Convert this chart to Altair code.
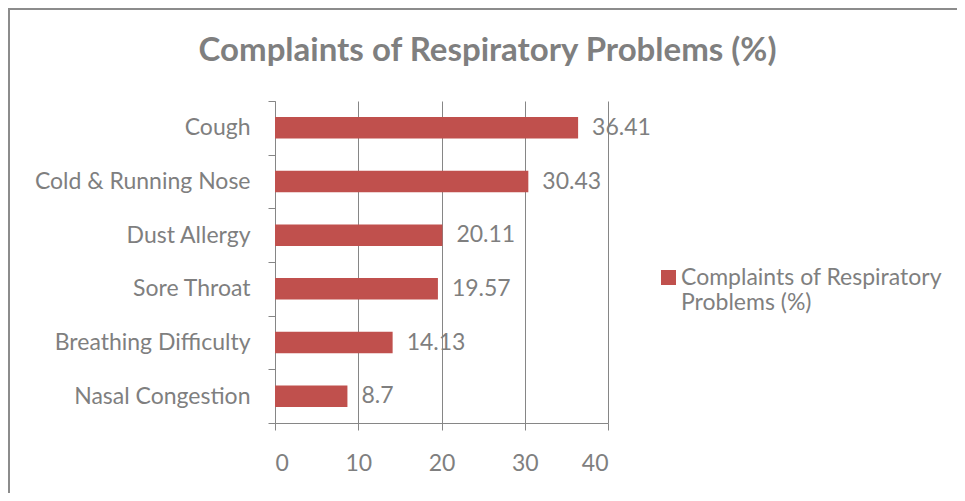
import altair as alt
import pandas as pd

categories = ["Cough", "Cold & Running Nose", "Dust Allergy", "Sore Throat",
              "Breathing Difficulty", "Nasal Congestion"]
values = [36.41, 30.43, 20.11, 19.57, 14.13, 8.7]
value_labels = ["36.41", "30.43", "20.11", "19.57", "14.13", "8.7"]
series_name = "Complaints of Respiratory Problems (%)"
legend_lines = ["Complaints of Respiratory", "Problems (%)"]
x_ticks = [0, 10, 20, 30, 40]

df = pd.DataFrame({
    "category": categories,
    "value": values,
    "label": value_labels,
    "series": [series_name] * len(categories),
})

FONT = "Lato"
GRAY = "#7f7f7f"
LINE = "#868686"
BAR = "#C0504D"
FS = 23

y_enc = alt.Y(
    "category:N", sort=categories,
    scale=alt.Scale(paddingInner=0, paddingOuter=0),
    axis=alt.Axis(title=None, tickBand="extent", tickSize=7, labelPadding=18,
                  labelFontSize=FS, labelColor=GRAY, labelFont=FONT,
                  domainColor=LINE, tickColor=LINE, grid=False, labelLimit=400),
)
x_enc = alt.X(
    "value:Q", scale=alt.Scale(domain=[0, 40]),
    axis=alt.Axis(values=x_ticks, title=None, tickSize=7, labelPadding=22,
                  labelFontSize=FS, labelColor=GRAY, labelFont=FONT,
                  domainColor=LINE, tickColor=LINE, grid=True, gridColor=LINE,
                  gridOpacity=1, labelBaseline="top"),
)

legend_expr = "[" + ", ".join("'" + s + "'" for s in legend_lines) + "]"

bars = alt.Chart(df).mark_bar(height={"band": 0.4}).encode(
    x=x_enc, y=y_enc,
    color=alt.Color("series:N", scale=alt.Scale(range=[BAR]),
                    legend=alt.Legend(title=None, orient="none", legendX=382, legendY=165,
                                      symbolType="square", symbolSize=225,
                                      symbolStrokeWidth=0, symbolOpacity=1,
                                      labelFont=FONT, labelFontSize=FS, labelColor=GRAY,
                                      labelExpr=legend_expr, labelLimit=400,
                                      labelOffset=1)),
)

text = alt.Chart(df).mark_text(
    align="left", baseline="middle", dx=14, font=FONT, fontSize=FS, color=GRAY
).encode(x="value:Q", y=alt.Y("category:N", sort=categories), text="label:N")

border = alt.Chart(pd.DataFrame({"a": [0]})).mark_rect(
    fillOpacity=0, stroke="#8c8c8c", strokeWidth=2
).encode(x=alt.value(-266), x2=alt.value(720), y=alt.value(-92), y2=alt.value(440))

chart = alt.layer(bars, text, border).properties(
    width=333, height=322,
    title=alt.TitleParams(text=series_name, font=FONT, fontSize=33, fontWeight="bold",
                          color=GRAY, anchor="middle", frame="group", dx=46,
                          offset=-86, baseline="alphabetic"),
    autosize=alt.AutoSizeParams(type="none"),
    padding={"left": 267, "top": 93, "right": 349, "bottom": 70},
).configure_view(stroke=None)

chart.save("out.html", embed_options={"renderer": "svg", "actions": False})
